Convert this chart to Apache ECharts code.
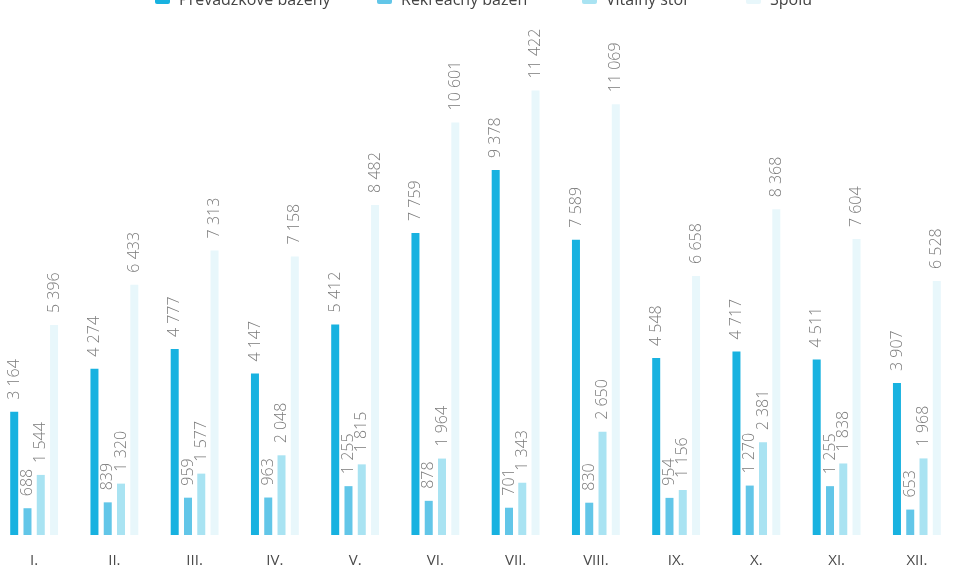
<!DOCTYPE html>
<html><head><meta charset="utf-8">
<script src="https://cdn.jsdelivr.net/npm/echarts@6/dist/echarts.min.js"></script>
<style>html,body{margin:0;padding:0;background:#fff;overflow:hidden}#c{position:relative;left:-6px;width:963px;height:574px}</style>
</head><body><div id="c"></div>
<script>
const categories = ['I.','II.','III.','IV.','V.','VI.','VII.','VIII.','IX.','X.','XI.','XII.'];
const seriesNames = ['Prevádzkové bazény','Rekreačný bazén','Vitálny stôl','Spolu'];
const s1 = [3164,4274,4777,4147,5412,7759,9378,7589,4548,4717,4511,3907];
const s2 = [688,839,959,963,1255,878,701,830,954,1270,1255,653];
const s3 = [1544,1320,1577,2048,1815,1964,1343,2650,1156,2381,1838,1968];
const s4 = [5396,6433,7313,7158,8482,10601,11422,11069,6658,8368,7604,6528];
const colors = ['#18B2E0','#62C6E8','#A9E3F2','#E8F7FB'];

const fmt = v => String(v).replace(/\B(?=(\d{3})+(?!\d))/g, ' ');
const chart = echarts.init(document.getElementById('c'));
const mk = (name, data, i) => ({
  name, type: 'bar', data, barWidth: 8, barGap: '66%',
  itemStyle: { color: colors[i] },
  label: { show: true, position: 'top', rotate: 90, distance: 12,
    align: 'left', verticalAlign: 'middle',
    formatter: p => fmt(p.value), color: '#7b7b7b', fontSize: 16,
    fontFamily: 'Open Sans', fontWeight: 300 }
});
const legendLefts = [156, 378, 583, 747];
const legends = seriesNames.map((n, i) => ({
  data: [n], top: -13, left: legendLefts[i], itemWidth: 15, itemHeight: 8,
  textStyle: { color: '#444', fontSize: 16, fontFamily: 'Open Sans', padding: [0, 0, 0, 4] }
}));
chart.setOption({
  animation: false,
  legend: legends,
  grid: { left: 0, right: 0, top: 68, bottom: 39 },
  xAxis: { type: 'category', data: categories,
    axisLine: { show: false }, axisTick: { show: false },
    axisLabel: { color: '#4a4a4a', fontSize: 15, margin: 18, fontFamily: 'Open Sans' } },
  yAxis: { type: 'value', min: 0, max: 12000, show: false, splitLine: { show: false } },
  series: [mk(seriesNames[0], s1, 0), mk(seriesNames[1], s2, 1), mk(seriesNames[2], s3, 2), mk(seriesNames[3], s4, 3)]
});
</script></body></html>
